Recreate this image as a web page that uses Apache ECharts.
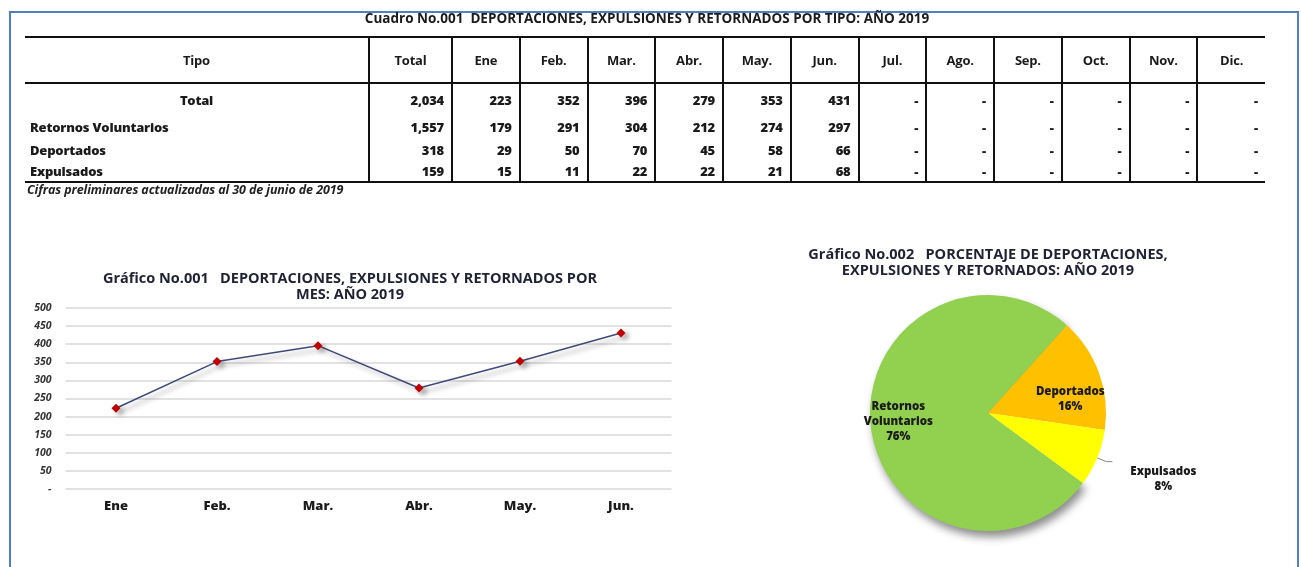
<!DOCTYPE html>
<html>
<head>
<meta charset="utf-8">
<script src="https://cdn.jsdelivr.net/npm/echarts@6/dist/echarts.min.js"></script>
<style>
  html, body { margin: 0; padding: 0; background: #fff; }
  #page { position: relative; width: 1301px; height: 567px; overflow: hidden; font-family: "Open Sans", Lato, sans-serif; color: #1b1b1b; }
  #frame { position: absolute; left: 9px; top: 11px; width: 1290px; height: 620px; border: 2px solid #4f81bd; box-sizing: border-box; }
  #chart { position: absolute; left: 0; top: 0; width: 1301px; height: 567px; }
  #cuadroTitle { position: absolute; left: 0; top: 10px; width: 1294px; text-align: center; font-weight: 700; font-size: 13.5px; line-height: 16px; }
  #cuadro { position: absolute; left: 25px; top: 36px; width: 1240px; border-collapse: collapse; table-layout: fixed; font-size: 13px; font-weight: 800; letter-spacing: -0.2px; }
  #cuadro th { height: 44px; border-top: 2px solid #111; border-bottom: 2px solid #111; text-align: center; padding: 0; }
  #cuadro td { padding: 0 7px 0 0; text-align: right; }
  #cuadro th + th, #cuadro td + td { border-left: 2px solid #111; }
  #cuadro tr:last-child td { border-bottom: 2px solid #111; }
  #cuadro td.tipo { text-align: left; padding-left: 5px; }
  #cuadro td.tipo.tot { text-align: center; padding: 0; }
  #nota { position: absolute; left: 27px; top: 181px; font-size: 12.5px; font-style: italic; font-weight: 700; color: #222; letter-spacing: -0.1px; }
</style>
</head>
<body>
<div id="page">
  <div id="chart"></div>
  <div id="frame"></div>
  <div id="cuadroTitle">Cuadro No.001&nbsp; DEPORTACIONES, EXPULSIONES Y RETORNADOS POR TIPO: AÑO 2019</div>
  <table id="cuadro"></table>
  <div id="nota">Cifras preliminares actualizadas al 30 de junio de 2019</div>
</div>
<script>
// datos del cuadro
var meses = ['Ene', 'Feb.', 'Mar.', 'Abr.', 'May.', 'Jun.', 'Jul.', 'Ago.', 'Sep.', 'Oct.', 'Nov.', 'Dic.'];
var tipos = ['Total', 'Retornos Voluntarios', 'Deportados', 'Expulsados'];
var totalTipo = [2034, 1557, 318, 159];
var totalMes = [223, 352, 396, 279, 353, 431];
var retornos = [179, 291, 304, 212, 274, 297];
var deportados = [29, 50, 70, 45, 58, 66];
var expulsados = [15, 11, 22, 22, 21, 68];

var filas = [totalMes, retornos, deportados, expulsados];
var rowHeights = [32, 24, 21, 22];

// tabla
var table = document.getElementById('cuadro');
var html = '<colgroup><col style="width:344px"><col style="width:83px">';
for (var i = 0; i < 12; i++) html += '<col style="width:67.75px">';
html += '</colgroup><tr><th>Tipo</th><th>Total</th>';
meses.forEach(function (m) { html += '<th>' + m + '</th>'; });
html += '</tr>';
tipos.forEach(function (t, r) {
    html += '<tr style="height:' + rowHeights[r] + 'px">';
    html += '<td class="tipo' + (r === 0 ? ' tot' : '') + '">' + t + '</td>';
    html += '<td>' + totalTipo[r].toLocaleString('en-US') + '</td>';
    for (var k = 0; k < 12; k++) {
        var v = filas[r][k];
        html += '<td>' + (v === undefined ? '-' : v) + '</td>';
    }
    html += '</tr>';
});
table.innerHTML = html;

var chart = echarts.init(document.getElementById('chart'));
var font = '"Open Sans", Lato, sans-serif';
var titleStyle = { fontSize: 14.5, fontWeight: 700, color: '#1f2233', lineHeight: 16, fontFamily: font };

var option = {
    animation: false,
    textStyle: { fontFamily: font },
    title: [
        {
            text: 'Gráfico No.001   DEPORTACIONES, EXPULSIONES Y RETORNADOS POR\nMES: AÑO 2019',
            left: 345, top: 266, textAlign: 'center',
            textStyle: titleStyle
        },
        {
            text: 'Gráfico No.002   PORCENTAJE DE DEPORTACIONES,\nEXPULSIONES Y RETORNADOS: AÑO 2019',
            left: 983, top: 242, textAlign: 'center',
            textStyle: titleStyle
        }
    ],
    grid: { left: 65.5, right: 629.5, top: 308, bottom: 78 },
    xAxis: {
        type: 'category',
        data: meses.slice(0, 6),
        axisLine: { show: false },
        axisTick: { show: false },
        axisLabel: { margin: 11, fontSize: 13, fontWeight: 800, color: '#1b1b1b' }
    },
    yAxis: {
        type: 'value',
        min: 0, max: 500, interval: 50,
        axisLine: { show: false },
        axisTick: { show: false },
        splitLine: { lineStyle: { color: '#d9d9d9', width: 1.5 } },
        axisLabel: {
            margin: 14, fontSize: 10.5, fontStyle: 'italic', fontWeight: 700, color: '#333',
            formatter: function (v) { return v === 0 ? '-' : v; }
        }
    },
    series: [
        {
            type: 'line',
            data: totalMes,
            symbol: 'diamond',
            symbolSize: 9,
            lineStyle: { color: '#3f4a78', width: 1.5, shadowColor: 'rgba(0,0,0,0.35)', shadowBlur: 5, shadowOffsetX: 4, shadowOffsetY: 4 },
            itemStyle: { color: '#c00000', shadowColor: 'rgba(0,0,0,0.35)', shadowBlur: 5, shadowOffsetX: 4, shadowOffsetY: 3 }
        },
        {
            type: 'pie',
            center: [988, 413],
            radius: 118,
            startAngle: 323.6,
            clockwise: true,
            percentPrecision: 0,
            silent: true,
            itemStyle: { borderWidth: 0 },
            label: {
                position: 'inside',
                fontSize: 11.5, fontWeight: 800, color: '#1b1b1b', lineHeight: 15,
                formatter: function (p) { return p.name.replace(' ', '\n') + '\n' + p.percent + '%'; }
            },
            labelLine: { show: false },
            labelLayout: function (params) {
                return params.dataIndex === 2 ? { dx: 6, dy: 18 } : {};
            },
            data: [
                {
                    name: tipos[1], value: totalTipo[1],
                    itemStyle: { color: '#92d050', shadowColor: 'rgba(0,0,0,0.45)', shadowBlur: 8, shadowOffsetX: 3, shadowOffsetY: 6 },
                    label: { offset: [-28, 2] }
                },
                {
                    name: tipos[2], value: totalTipo[2],
                    itemStyle: { color: '#ffc000' },
                    label: { offset: [24, 7] }
                },
                {
                    name: tipos[3], value: totalTipo[3],
                    itemStyle: { color: '#ffff00' },
                    label: {
                        position: 'outside',
                        formatter: function (p) { return '{a|' + p.name + '}\n{a|' + p.percent + '%}'; },
                        rich: { a: { width: 80, align: 'center', fontSize: 11.5, fontWeight: 800, color: '#1b1b1b', lineHeight: 15 } }
                    },
                    labelLine: { show: true, length: 10, length2: 6, lineStyle: { color: '#888', width: 1 } }
                }
            ]
        }
    ]
};
chart.setOption(option);
</script>
</body>
</html>
